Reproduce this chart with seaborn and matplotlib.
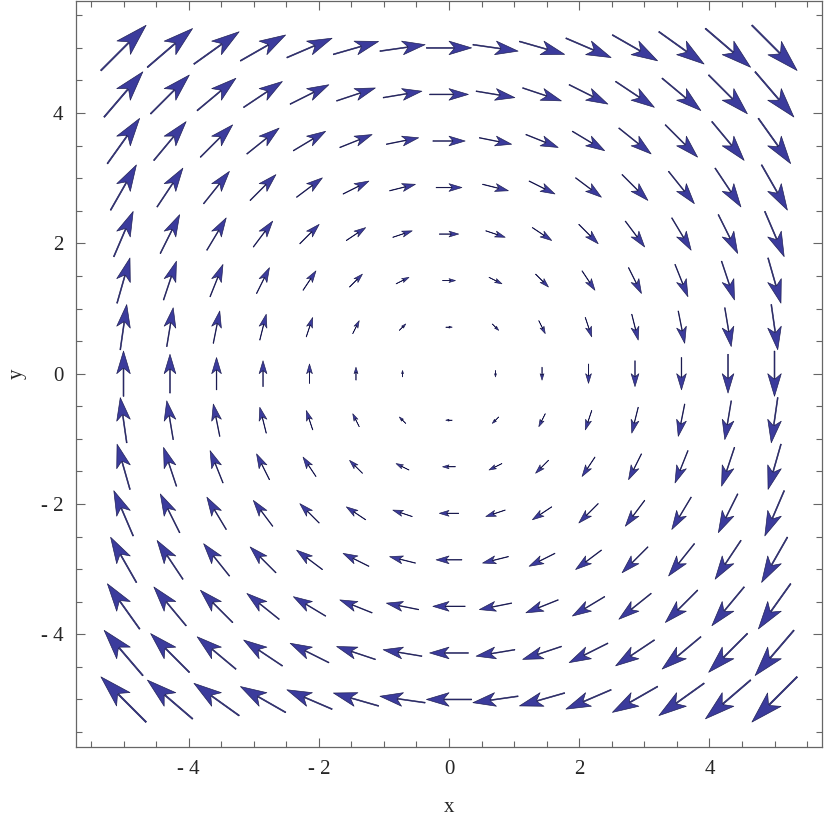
import numpy as np
import matplotlib
matplotlib.use("Agg")
import matplotlib.pyplot as plt
from matplotlib.ticker import MultipleLocator, FuncFormatter
import seaborn as sns

# 15 x 15 sample grid of the plot (same spacing on both axes)
grid_x = [-5.0, -4.286, -3.571, -2.857, -2.143, -1.429, -0.714, 0.0,
          0.714, 1.429, 2.143, 2.857, 3.571, 4.286, 5.0]
grid_y = list(grid_x)

major_ticks = [-4, -2, 0, 2, 4]

sns.set_style("ticks")
plt.rcParams['font.family'] = ['Liberation Serif', 'DejaVu Serif']

def tick_fmt(v, pos):
    v = int(round(v))
    return "- %d" % abs(v) if v < 0 else "%d" % v

def main():
    X, Y = np.meshgrid(grid_x, grid_y)
    # rotating field: u = y, v = -x
    U = Y
    V = -X

    fig = plt.figure(figsize=(8.25, 8.21), dpi=100)
    ax = fig.add_axes([0.0921, 0.0901, 0.9043, 0.9087])

    ax.quiver(X, Y, U, V, pivot='middle', angles='xy', scale_units='xy', scale=7.2,
              width=0.0017, headwidth=15, headlength=25, headaxislength=19,
              minshaft=2, minlength=0, color='#3b3b9c', edgecolor='#1a1a4e',
              linewidth=0.45)

    ax.set_xlim(-5.73, 5.73)
    ax.set_ylim(-5.73, 5.72)
    ax.set_xticks(major_ticks)
    ax.set_yticks(major_ticks)
    ax.xaxis.set_minor_locator(MultipleLocator(0.5))
    ax.yaxis.set_minor_locator(MultipleLocator(0.5))
    ax.xaxis.set_major_formatter(FuncFormatter(tick_fmt))
    ax.yaxis.set_major_formatter(FuncFormatter(tick_fmt))
    ax.tick_params(which='both', direction='in', top=True, right=True,
                   color='#666666', width=0.8, labelsize=15, pad=9)
    ax.tick_params(which='major', length=6.5)
    ax.tick_params(which='minor', length=4)
    for s in ax.spines.values():
        s.set_color('#666666')
        s.set_linewidth(0.9)

    ax.set_xlabel('x', fontsize=15, labelpad=14)
    ax.set_ylabel('y', fontsize=15, labelpad=10)

    fig.savefig('out.png', dpi=100, facecolor='white')

if __name__ == '__main__':
    main()
